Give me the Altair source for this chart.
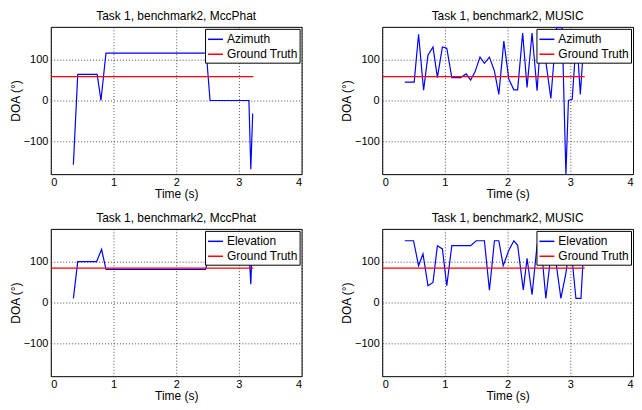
import altair as alt
import pandas as pd

# ---------------- data ----------------
# Top-left: MccPhat azimuth
mp_az_t = [0.36, 0.43, 0.74, 0.80, 0.88, 2.48, 2.54, 3.16, 3.19, 3.22]
mp_az_v = [-157, 64, 64, 0, 116, 116, 0, 0, -168, -32]
az_gt_v = 58.5

# Top-right: MUSIC azimuth
mu_az_t = [0.36, 0.51, 0.58, 0.66, 0.73, 0.81, 0.88, 0.96, 1.03, 1.11, 1.25, 1.34,
           1.41, 1.48, 1.56, 1.63, 1.71, 1.79, 1.86, 1.94, 2.02, 2.10, 2.16, 2.24,
           2.31, 2.39, 2.47, 2.54, 2.69, 2.78, 2.87, 2.93, 2.97, 3.03, 3.10, 3.16, 3.21]
mu_az_v = [45, 45, 162, 25, 111, 131, 56, 131, 128, 56, 56, 65,
           50, 70, 106, 91, 106, 72, 15, 145, 52, 26, 26, 165,
           32, 165, 24, 174, 5, 178, 178, -180, 0, 3, 160, 15, 130]

# Bottom-left: MccPhat elevation
mp_el_t = [0.36, 0.43, 0.73, 0.81, 0.88, 2.47, 2.54, 3.16, 3.19, 3.21]
mp_el_v = [10, 100, 100, 130, 81, 81, 130, 130, 45, 130]
el_gt_v = 84

# Bottom-right: MUSIC elevation
mu_el_t = [0.36, 0.50, 0.58, 0.65, 0.73, 0.81, 0.88, 0.96, 1.03, 1.11, 1.41, 1.50,
           1.63, 1.71, 1.79, 1.86, 1.93, 2.02, 2.10, 2.16, 2.25, 2.31, 2.39, 2.47,
           2.54, 2.61, 2.70, 2.77, 2.85, 2.93, 3.00, 3.09, 3.17, 3.21]
mu_el_v = [151, 151, 90, 119, 41, 49, 139, 131, 41, 139, 139, 151,
           151, 30, 151, 151, 90, 128, 151, 140, 31, 108, 19, 140,
           130, 10, 130, 100, 10, 72, 150, 10, 10, 120]

gt_t = [0.0, 3.23]

x_ticks = [0, 1, 2, 3, 4]
y_ticks = [-100, 0, 100]

FONT = "Liberation Sans"


def panel(title, name, t, v, gt_value):
    df = pd.DataFrame({
        "t": list(t) + gt_t,
        "v": list(v) + [gt_value] * len(gt_t),
        "s": [name] * len(t) + ["Ground Truth"] * len(gt_t),
    })
    return alt.Chart(df, title=title).mark_line(strokeWidth=1.2, clip=True).encode(
        x=alt.X("t:Q", scale=alt.Scale(domain=[0, 4], nice=False),
                axis=alt.Axis(values=x_ticks, title="Time (s)", labelPadding=2,
                              titlePadding=1)),
        y=alt.Y("v:Q", scale=alt.Scale(domain=[-180, 180], nice=False),
                axis=alt.Axis(values=y_ticks, title="DOA (°)", labelPadding=3,
                              titlePadding=1)),
        color=alt.Color("s:N",
                        scale=alt.Scale(domain=[name, "Ground Truth"],
                                        range=["#0000ff", "#ff0000"]),
                        legend=alt.Legend(title=None, orient="top-right", offset=2,
                                          fillColor="white", strokeColor="black",
                                          padding=2, symbolType="stroke",
                                          symbolSize=225, symbolStrokeWidth=1.5,
                                          labelFontSize=12, labelFont=FONT,
                                          labelColor="black", rowPadding=0,
                                          labelOffset=3)),
    ).properties(width=252, height=148)


p1 = panel("Task 1, benchmark2, MccPhat", "Azimuth", mp_az_t, mp_az_v, az_gt_v)
p2 = panel("Task 1, benchmark2, MUSIC", "Azimuth", mu_az_t, mu_az_v, az_gt_v)
p3 = panel("Task 1, benchmark2, MccPhat", "Elevation", mp_el_t, mp_el_v, el_gt_v)
p4 = panel("Task 1, benchmark2, MUSIC", "Elevation", mu_el_t, mu_el_v, el_gt_v)

chart = alt.concat(
    p1, p2, p3, p4, columns=2, spacing={"row": 55, "column": 81}, bounds="flush"
).resolve_scale(color="independent").properties(
    padding={"left": 0, "top": 0, "right": 0, "bottom": 0}
).configure_view(
    stroke="black", strokeWidth=1
).configure_axis(
    labelFont=FONT, labelFontSize=11, labelColor="black",
    titleFont=FONT, titleFontSize=12, titleFontWeight="normal", titleColor="black",
    domain=False, ticks=False,
    grid=True, gridColor="#222222", gridDash=[1, 2], gridWidth=1, gridOpacity=0.8,
).configure_title(
    font=FONT, fontSize=12, fontWeight="normal", color="black", offset=0
)

chart.save("out.html", embed_options={"renderer": "svg", "actions": False})
